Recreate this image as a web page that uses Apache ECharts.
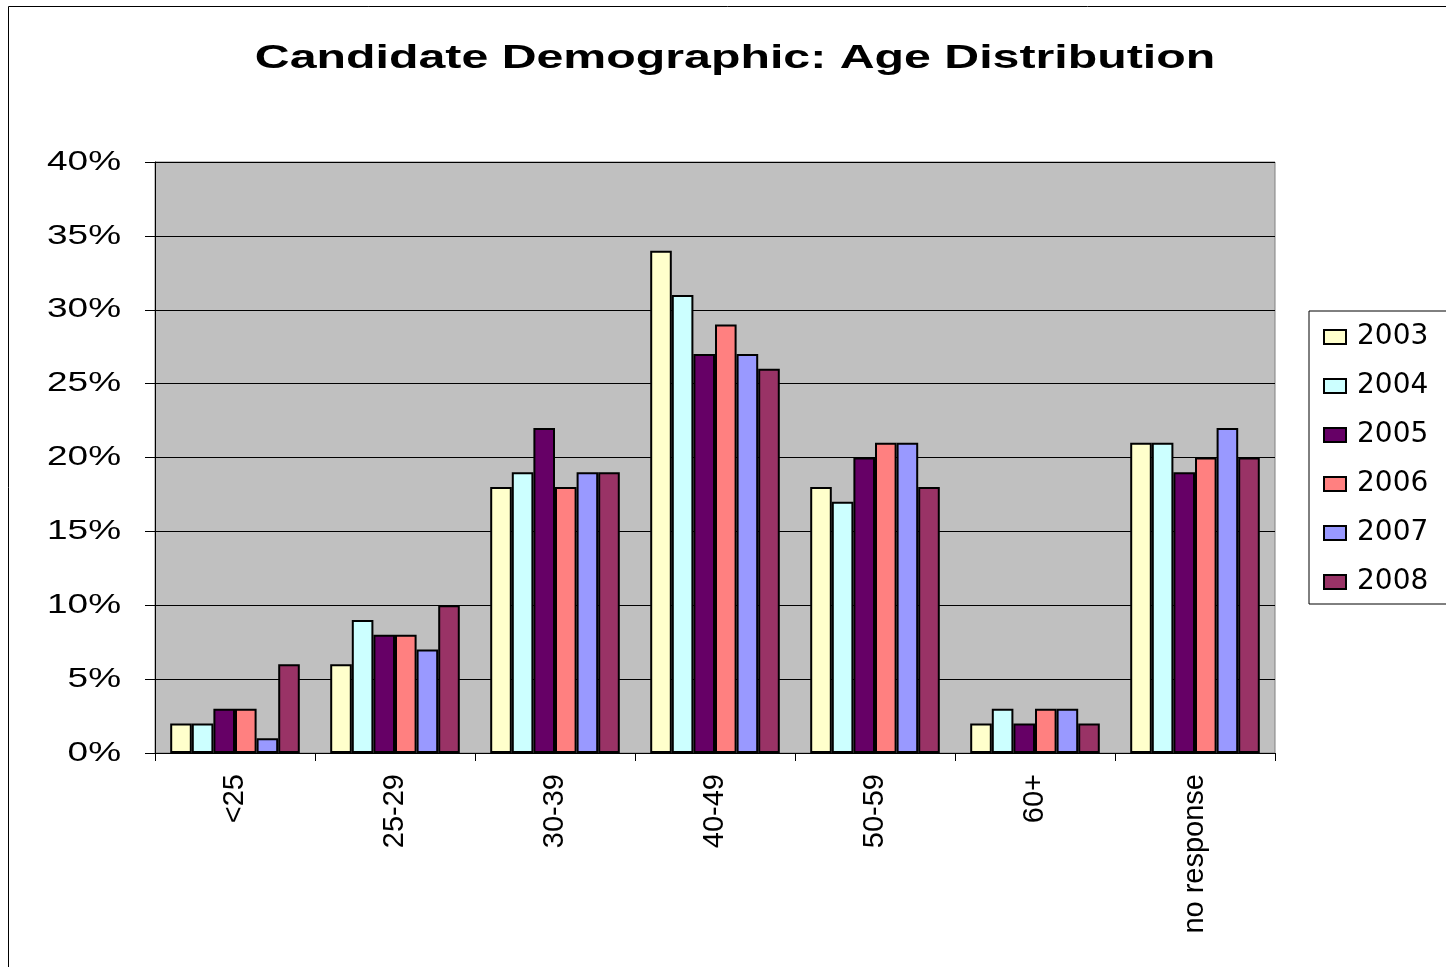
<!DOCTYPE html>
<html><head><meta charset="utf-8">
<script src="https://cdn.jsdelivr.net/npm/echarts@6/dist/echarts.min.js"></script>
<style>html,body{margin:0;padding:0;background:#fff}#c{width:1446px;height:967px}</style>
</head><body><div id="c"></div>
<script>
const categories = ['<25','25-29','30-39','40-49','50-59','60+','no response'];
const years = ['2003','2004','2005','2006','2007','2008'];
const colors = ['#FFFFCC','#CCFFFF','#660066','#FF8080','#9999FF','#993366'];
const v2003 = [2,6,18,34,18,2,21];
const v2004 = [2,9,19,31,17,3,21];
const v2005 = [3,8,22,27,20,2,19];
const v2006 = [3,8,18,29,21,3,20];
const v2007 = [1,7,19,27,21,3,22];
const v2008 = [6,10,19,26,18,2,20];
const yTicks = [0,5,10,15,20,25,30,35,40];
const titleText = 'Candidate Demographic: Age Distribution';
const seriesValues = [v2003,v2004,v2005,v2006,v2007,v2008];
const F = 'Liberation Sans, Arial, sans-serif';
const chart = echarts.init(document.getElementById('c'));
const baseGraphic = [
  {id:'frame',type:'rect',shape:{x:8.5,y:6.5,width:1500,height:1000},style:{fill:'none',stroke:'#000',lineWidth:1},silent:true},
  {id:'title',type:'text',x:735,y:59,scaleX:1.42,style:{text:titleText,font:'bold 34px '+F,fill:'#000',textAlign:'center',textVerticalAlign:'middle'}}
];
chart.setOption({
  animation:false,
  backgroundColor:'#fff',
  graphic: baseGraphic,
  legend:{orient:'vertical',left:1309,top:311,itemWidth:22,itemHeight:14,itemGap:19,
    padding:[11,20,7,14],borderColor:'#000',borderWidth:1,icon:'rect',
    textStyle:{fontFamily:'DejaVu Sans',fontSize:28,lineHeight:30,color:'#000',padding:[0,0,0,6]},data:years},
  grid:{left:155,right:171,top:162,bottom:214,show:true,backgroundColor:'#C0C0C0',borderColor:'#808080',borderWidth:1,containLabel:false},
  xAxis:{type:'category',data:categories,
    axisLine:{lineStyle:{color:'#000',width:1}},
    axisTick:{show:true,length:8,lineStyle:{color:'#000'}},
    axisLabel:{rotate:90,fontFamily:F,fontSize:29,color:'#000',margin:21}},
  yAxis:{type:'value',min:0,max:40,interval:5,
    axisLine:{show:true,lineStyle:{color:'#000'}},
    axisTick:{show:true,length:10,inside:false,lineStyle:{color:'#000'}},
    axisLabel:{show:false},
    splitLine:{lineStyle:{color:'#000',width:1}}},
  series: years.map((y,i)=>({name:y,type:'bar',data:seriesValues[i],barGap:'0%',barCategoryGap:'19%',
    itemStyle:{color:colors[i],borderColor:'#000',borderWidth:2}}))
});
// y-axis tick labels, placed through the axis scale, horizontally stretched like the original
const yLabels = yTicks.map(v => ({
  id:'ylab'+v, type:'text',
  x: 121,
  y: chart.convertToPixel({yAxisIndex:0}, v),
  scaleX:1.32,
  style:{text:v+'%', font:'28px '+F, fill:'#000', textAlign:'right', textVerticalAlign:'middle'}
}));
chart.setOption({graphic: baseGraphic.concat(yLabels)});
</script></body></html>
